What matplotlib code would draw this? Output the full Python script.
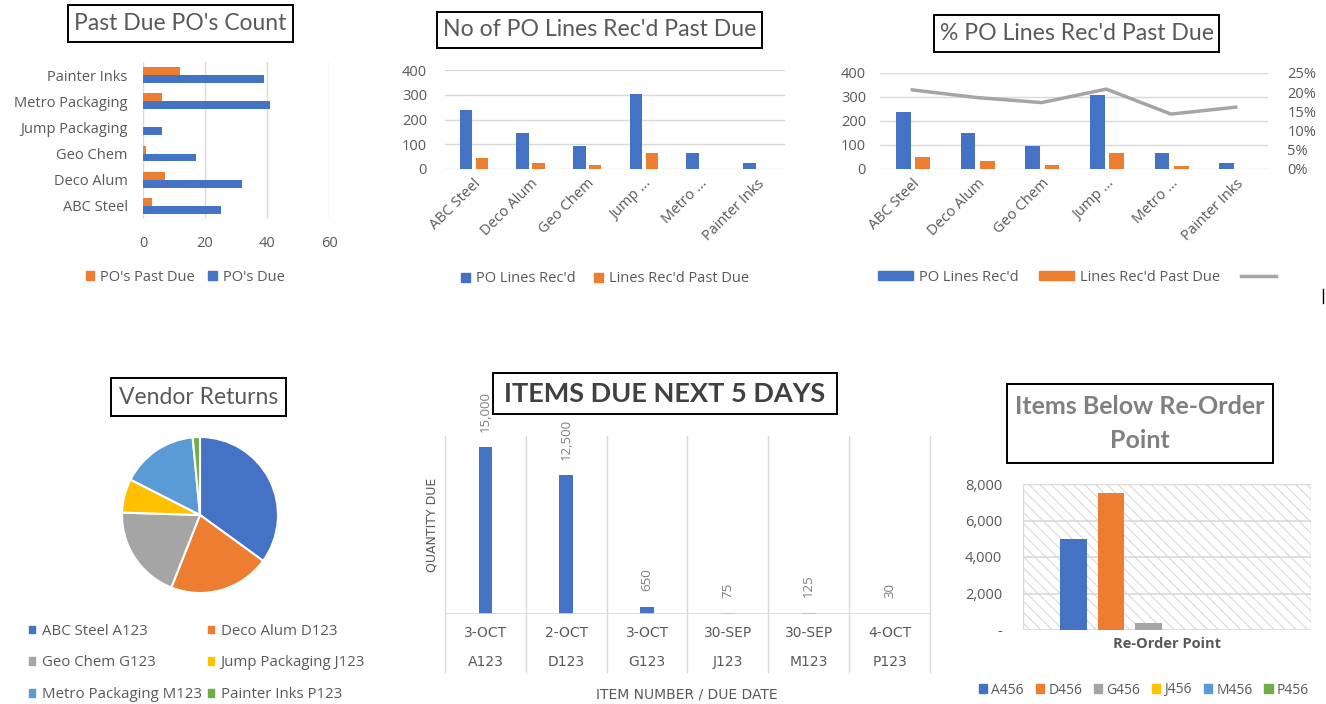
import matplotlib
matplotlib.use("Agg")
import matplotlib.pyplot as plt
import numpy as np
from matplotlib.patches import Rectangle, Patch
from matplotlib.lines import Line2D
from matplotlib.ticker import FuncFormatter

plt.rcParams['font.family'] = ['Open Sans', 'DejaVu Sans']
plt.rcParams['hatch.linewidth'] = 0.8

# ---- data ----
vendors = ["ABC Steel", "Deco Alum", "Geo Chem", "Jump Packaging", "Metro Packaging", "Painter Inks"]
vendors_short = ["ABC Steel", "Deco Alum", "Geo Chem", "Jump ...", "Metro ...", "Painter Inks"]

pos_past_due = [3, 7, 1, 0, 6, 12]
pos_due = [25, 32, 17, 6, 41, 39]

lines_recd_2 = [238, 145, 91, 303, 64, 24]
lines_past_due_2 = [44, 24, 17, 64, 0, 0]

lines_recd_3 = [237, 150, 94, 307, 67, 25]
lines_past_due_3 = [52, 32, 18, 67, 11, 0]
pct_past_due = [0.206, 0.186, 0.173, 0.208, 0.143, 0.161]

return_labels = ["ABC Steel A123", "Deco Alum D123", "Geo Chem G123",
                 "Jump Packaging J123", "Metro Packaging M123", "Painter Inks P123"]
return_values = [35, 21, 19.5, 7, 16, 1.5]

due_dates = ["3-OCT", "2-OCT", "3-OCT", "30-SEP", "30-SEP", "4-OCT"]
due_items = ["A123", "D123", "G123", "J123", "M123", "P123"]
due_qty = [15000, 12500, 650, 75, 125, 30]

reorder_items = ["A456", "D456", "G456", "J456", "M456", "P456"]
reorder_qty = [5000, 7500, 400, 0, 0, 0]

BLUE, ORANGE, GRAY, YELLOW, LBLUE, GREEN = "#4472C4", "#ED7D31", "#A5A5A5", "#FFC000", "#5B9BD5", "#70AD47"
TXT = "#595959"
GRID = "#d9d9d9"
TFONT = ['Lato', 'DejaVu Sans']
FS = 10.5

W, H = 1326, 704
fig = plt.figure(figsize=(W / 100, H / 100), dpi=100)


def px_axes(x0, y0, x1, y1):
    return fig.add_axes([x0 / W, 1 - y1 / H, (x1 - x0) / W, (y1 - y0) / H])


def title_box(x0, y0, x1, y1, text, size, **kw):
    fig.add_artist(Rectangle((x0 / W, 1 - y1 / H), (x1 - x0) / W, (y1 - y0) / H,
                             transform=fig.transFigure, fc="white", ec="black", lw=1.4))
    opts = dict(color=TXT, family=TFONT)
    opts.update(kw)
    fig.text((x0 + x1) / 2 / W, 1 - (y0 + y1) / 2 / H, text, ha="center", va="center",
             fontsize=size, **opts)


def clean(ax):
    for s in ax.spines.values():
        s.set_visible(False)
    ax.tick_params(length=0, colors=TXT, labelsize=FS)


def fig_legend(ax, handles, labels, xc, yc, fs=FS, **kw):
    leg = ax.legend(handles, labels, loc="center", bbox_to_anchor=(xc / W, 1 - yc / H),
                    bbox_transform=fig.transFigure, frameon=False, fontsize=fs,
                    labelcolor=TXT, **kw)
    return leg


# ---- 1. Past Due PO's Count ----
ax1 = px_axes(143, 62, 329, 219)
y = np.arange(len(vendors))
ax1.barh(y + 0.15, pos_past_due, height=0.3, color=ORANGE)
ax1.barh(y - 0.15, pos_due, height=0.3, color=BLUE)
ax1.set_xlim(0, 60)
ax1.set_ylim(-0.5, 5.5)
ax1.set_xticks([0, 20, 40, 60])
ax1.set_yticks(y, vendors)
ax1.grid(axis="x", color=GRID, lw=1)
ax1.set_axisbelow(True)
clean(ax1)
ax1.tick_params(axis="x", pad=12)
ax1.tick_params(axis="y", pad=11)
title_box(68, 5, 293, 42, "Past Due PO's Count", 16.5)
fig_legend(ax1, [Patch(color=ORANGE), Patch(color=BLUE)], ["PO's Past Due", "PO's Due"],
           185, 277, ncol=2, handlelength=0.6, handleheight=0.6, handletextpad=0.4, columnspacing=0.9)

# ---- 2. No of PO Lines Rec'd Past Due ----
ax2 = px_axes(445, 70, 785, 169)
x = np.arange(len(vendors))
ax2.bar(x - 0.13, lines_recd_2, width=0.22, color=BLUE)
ax2.bar(x + 0.15, lines_past_due_2, width=0.22, color=ORANGE)
ax2.set_xlim(-0.5, 5.5)
ax2.set_ylim(0, 400)
ax2.set_yticks([0, 100, 200, 300, 400])
ax2.set_xticks(x, vendors_short, rotation=45, ha="right", rotation_mode="anchor")
ax2.grid(axis="y", color=GRID, lw=1)
ax2.set_axisbelow(True)
clean(ax2)
ax2.tick_params(axis="y", pad=13)
ax2.tick_params(axis="x", pad=5)
title_box(437, 12, 762, 48, "No of PO Lines Rec'd Past Due", 16.6)
fig_legend(ax2, [Patch(color=BLUE), Patch(color=ORANGE)], ["PO Lines Rec'd", "Lines Rec'd Past Due"],
           605, 279, ncol=2, handlelength=0.6, handleheight=0.6, handletextpad=0.4, columnspacing=1.3)

# ---- 3. % PO Lines Rec'd Past Due ----
ax3 = px_axes(880, 73, 1268, 169)
ax3.bar(x - 0.14, lines_recd_3, width=0.23, color=BLUE)
ax3.bar(x + 0.16, lines_past_due_3, width=0.23, color=ORANGE)
ax3.set_xlim(-0.5, 5.5)
ax3.set_ylim(0, 400)
ax3.set_yticks([0, 100, 200, 300, 400])
ax3.set_xticks(x, vendors_short, rotation=45, ha="right", rotation_mode="anchor")
ax3.grid(axis="y", color=GRID, lw=1)
ax3.set_axisbelow(True)
clean(ax3)
ax3.tick_params(axis="y", pad=10)
ax3.tick_params(axis="x", pad=5)
ax3r = ax3.twinx()
ax3r.plot(x, pct_past_due, color=GRAY, lw=2.5)
ax3r.set_ylim(0, 0.25)
ax3r.set_yticks([0, 0.05, 0.10, 0.15, 0.20, 0.25])
ax3r.yaxis.set_major_formatter(FuncFormatter(lambda v, p: f"{v * 100:.0f}%"))
clean(ax3r)
ax3r.tick_params(axis="y", pad=14)
title_box(934, 15, 1219, 52, "% PO Lines Rec'd Past Due", 16.6)
fig_legend(ax3r, [Patch(color=BLUE), Patch(color=ORANGE), Line2D([], [], color=GRAY, lw=2.5)],
           ["PO Lines Rec'd", "Lines Rec'd Past Due", ""],
           1080, 277, ncol=3, handlelength=2.4, handleheight=0.6, handletextpad=0.4, columnspacing=1.4)

# ---- 4. Vendor Returns ----
ax4 = px_axes(122, 437, 278, 593)
pie_cols = [BLUE, ORANGE, GRAY, YELLOW, LBLUE, GREEN]
ax4.pie(return_values, colors=pie_cols, startangle=90,
        counterclock=False, radius=1, wedgeprops=dict(edgecolor="white", linewidth=1.5))
ax4.set_xlim(-1, 1)
ax4.set_ylim(-1, 1)
title_box(111, 378, 286, 416, "Vendor Returns", 16.5)
order = [0, 2, 4, 1, 3, 5]
fig_legend(ax4, [Patch(color=pie_cols[i]) for i in order], [return_labels[i] for i in order],
           197, 663, fs=10.8, ncol=2, handlelength=0.4, handleheight=0.4, handletextpad=0.45,
           columnspacing=0.4, labelspacing=1.12)

# ---- 5. Items Due Next 5 Days ----
ax5 = px_axes(445, 436, 930, 614)
xi = np.arange(len(due_items))
ax5.bar(xi, due_qty, width=0.17, color=BLUE)
ax5.set_xlim(-0.5, 5.5)
ax5.set_ylim(0, 16000)
for s in ax5.spines.values():
    s.set_visible(False)
ax5.set_xticks([])
ax5.set_yticks([])
ax5.axhline(0, color=GRID, lw=1.2)
trans = ax5.get_xaxis_transform()
for b in np.arange(-0.5, 6, 1):
    ax5.plot([b, b], [-0.326, 1], color=GRID, lw=1, transform=trans, clip_on=False)
for i in xi:
    ax5.text(i, -0.107, due_dates[i], transform=trans, ha="center", va="center",
             fontsize=10, color=TXT, family="DejaVu Sans")
    ax5.text(i, -0.27, due_items[i], transform=trans, ha="center", va="center",
             fontsize=10, color=TXT, family="DejaVu Sans")
    ax5.annotate(f"{due_qty[i]:,}", (i, due_qty[i]), xytext=(0, 11), textcoords="offset points",
                 rotation=90, ha="center", va="bottom", fontsize=9.5, color="#7f7f7f",
                 annotation_clip=False)
ax5.set_ylabel("QUANTITY DUE", color=TXT, fontsize=9, labelpad=5, family="DejaVu Sans")
fig.text(687 / W, 1 - 694 / H, "ITEM NUMBER / DUE DATE", ha="center", va="center",
         fontsize=10, color=TXT, family="DejaVu Sans")
title_box(493, 373, 837, 414, "ITEMS DUE NEXT 5 DAYS", 19.5, fontweight="bold", color="#404040")

# ---- 6. Items Below Re-Order Point ----
ax6 = px_axes(1023, 484, 1311, 630)
ax6.add_patch(Rectangle((0, 0), 1, 1, transform=ax6.transAxes, fc="white", ec=GRID,
                        lw=1, hatch="\\\\\\", zorder=0))
ax6.patch.set_visible(False)
step = 0.13
cols6 = [BLUE, ORANGE, GRAY, YELLOW, LBLUE, GREEN]
for k in range(len(reorder_items)):
    ax6.bar((k - 2.5) * step, reorder_qty[k], width=0.092, color=cols6[k], zorder=3,
            label=reorder_items[k])
ax6.set_xlim(-0.5, 0.5)
ax6.set_ylim(0, 8000)
ax6.set_yticks([0, 2000, 4000, 6000, 8000])
ax6.yaxis.set_major_formatter(FuncFormatter(lambda v, p: "-" if v == 0 else f"{v:,.0f}"))
ax6.set_xticks([0], ["Re-Order Point"], fontweight="bold")
ax6.grid(axis="y", color=GRID, lw=1.2, zorder=1)
clean(ax6)
ax6.tick_params(axis="y", pad=15)
ax6.tick_params(axis="x", pad=5)
title_box(1007, 384, 1273, 463, "Items Below Re-Order\nPoint", 18, color="#808080",
          fontweight="bold", linespacing=1.55)
fig_legend(ax6, [Patch(color=c) for c in cols6], reorder_items, 1144, 690, fs=10, ncol=6,
           handlelength=0.6, handleheight=0.6, handletextpad=0.3, columnspacing=0.85)

# stray cursor mark at right edge
fig.add_artist(Line2D([1323 / W, 1323 / W], [1 - 289 / H, 1 - 303 / H], color="black", lw=1))

fig.savefig("out.png", dpi=100)
